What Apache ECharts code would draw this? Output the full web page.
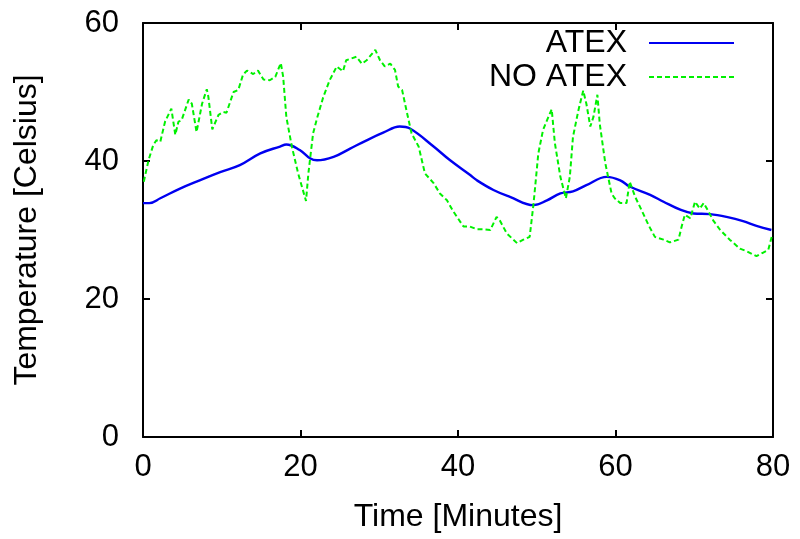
<!DOCTYPE html>
<html>
<head>
<meta charset="utf-8">
<script src="https://cdn.jsdelivr.net/npm/echarts@6/dist/echarts.min.js"></script>
<style>html,body{margin:0;padding:0;background:#fff}#c{width:800px;height:539px}</style>
</head>
<body>
<div id="c"></div>
<script>
// Tick labels
var xTicks = [0, 20, 40, 60, 80];
var yTicks = [0, 20, 40, 60];

// ATEX series (minutes, °C)
var atexTime = [0, 0.8, 2.2, 4.7, 7.2, 9.8, 12.3, 14.9, 17.4, 18.2, 19.9, 21.2, 22.1, 24.2, 26.3, 28.4, 30.5, 32.6, 33.9, 36.9, 39.0, 41.5, 42.4, 44.5, 46.6, 49.6, 51.3, 53.0, 54.6, 56.3, 58.9, 60.6, 61.8, 64.4, 66.1, 68.3, 69.9, 72.0, 74.1, 76.2, 77.9, 79.8];
var atexTemp = [33.9, 33.9, 34.6, 36.0, 37.2, 38.4, 39.4, 41.1, 42.1, 42.4, 41.6, 40.4, 40.1, 40.6, 41.8, 43.0, 44.1, 45.0, 44.7, 42.1, 40.1, 38.0, 37.2, 35.8, 34.8, 33.6, 34.3, 35.3, 35.6, 36.5, 37.7, 37.2, 36.3, 35.1, 34.1, 32.9, 32.4, 32.3, 31.9, 31.3, 30.6, 30.0];

// NO ATEX series (minutes, °C)
var noAtexTime = [0.1, 0.7, 1.3, 1.7, 2.2, 2.8, 3.6, 4.1, 4.5, 4.9, 5.8, 6.2, 6.8, 7.5, 8.1, 8.3, 8.8, 9.6, 10.2, 10.6, 11.5, 12.1, 12.7, 13.2, 14.0, 14.6, 15.3, 16.1, 16.8, 17.5, 17.8, 18.2, 18.9, 19.7, 20.7, 21.0, 21.6, 22.1, 22.9, 23.7, 24.6, 25.4, 25.8, 27.1, 27.8, 28.4, 29.5, 30.1, 30.7, 31.4, 32.0, 32.4, 32.9, 33.5, 34.1, 35.0, 35.8, 36.9, 37.7, 38.6, 39.4, 40.7, 41.5, 42.4, 43.2, 44.1, 44.9, 45.3, 46.2, 47.5, 48.3, 49.1, 49.6, 50.2, 50.8, 51.3, 51.9, 52.3, 53.0, 53.7, 54.2, 54.6, 55.3, 55.9, 56.3, 56.8, 57.2, 57.7, 58.0, 58.7, 59.5, 59.9, 60.6, 61.4, 61.8, 62.5, 63.3, 64.2, 65.0, 66.1, 66.9, 68.0, 68.4, 68.8, 69.5, 70.1, 70.7, 71.2, 71.8, 72.4, 73.3, 74.5, 75.8, 76.7, 77.9, 78.7, 79.4, 79.9];
var noAtexTemp = [37.0, 40.1, 42.3, 43.0, 42.8, 45.7, 47.6, 43.8, 45.7, 45.9, 48.9, 48.3, 44.2, 48.3, 50.4, 49.3, 44.6, 46.7, 47.1, 47.0, 50.0, 50.3, 52.5, 53.1, 52.6, 53.1, 51.8, 51.7, 52.2, 54.2, 52.2, 46.4, 42.1, 38.2, 34.2, 38.2, 44.0, 46.2, 49.3, 51.7, 53.7, 53.0, 54.6, 55.1, 54.1, 54.6, 56.1, 54.6, 53.7, 54.1, 53.2, 50.8, 50.3, 47.1, 44.0, 42.1, 38.2, 36.8, 35.3, 34.3, 32.7, 30.5, 30.5, 30.1, 30.1, 30.0, 31.9, 31.4, 29.5, 28.1, 28.6, 29.0, 33.9, 41.1, 44.5, 45.9, 47.5, 42.6, 37.7, 34.6, 37.7, 43.5, 47.4, 50.2, 48.3, 45.0, 46.4, 49.6, 45.4, 39.7, 35.3, 34.6, 33.9, 33.9, 37.0, 34.8, 32.9, 30.7, 29.0, 28.6, 28.2, 28.6, 30.5, 32.2, 31.7, 34.1, 33.1, 33.9, 32.7, 31.4, 30.0, 28.6, 27.3, 26.9, 26.2, 26.7, 27.1, 29.3];

function pairs(xs, ys) { return xs.map(function (x, i) { return [x, ys[i]]; }); }

var FONT = '"Liberation Sans", Arial, sans-serif';
var BLUE = '#0000f0';
var GREEN = '#00f000';

var chart = echarts.init(document.getElementById('c'), null, { renderer: 'canvas' });

function axisBase() {
  return {
    type: 'value',
    axisLine: { show: true, onZero: false, lineStyle: { color: '#000', width: 2 } },
    axisTick: { show: true, inside: true, length: 7, lineStyle: { color: '#000', width: 2 } },
    splitLine: { show: false }
  };
}

var legendText = { color: '#000', fontSize: 32, fontFamily: FONT, padding: [0, 17, 0, 0] };

chart.setOption({
  animation: false,
  backgroundColor: '#fff',
  textStyle: { fontFamily: FONT },
  grid: { left: 143, right: 27, top: 23, bottom: 102, containLabel: false },
  xAxis: [
    Object.assign(axisBase(), {
      min: xTicks[0], max: xTicks[xTicks.length - 1], interval: 20,
      position: 'bottom',
      name: 'Time [Minutes]', nameLocation: 'middle', nameGap: 64,
      nameTextStyle: { color: '#000', fontSize: 32, fontFamily: FONT },
      axisLabel: { color: '#000', fontSize: 31, fontFamily: FONT, margin: 15 }
    }),
    Object.assign(axisBase(), {
      min: xTicks[0], max: xTicks[xTicks.length - 1], interval: 20,
      position: 'top',
      axisLabel: { show: false }
    })
  ],
  yAxis: [
    Object.assign(axisBase(), {
      min: yTicks[0], max: yTicks[yTicks.length - 1], interval: 20,
      position: 'left',
      name: 'Temperature [Celsius]', nameLocation: 'middle', nameGap: 100, nameRotate: 90,
      nameTextStyle: { color: '#000', fontSize: 32, fontFamily: FONT },
      axisLabel: { color: '#000', fontSize: 31, fontFamily: FONT, margin: 24 }
    }),
    Object.assign(axisBase(), {
      min: yTicks[0], max: yTicks[yTicks.length - 1], interval: 20,
      position: 'right',
      axisLabel: { show: false }
    })
  ],
  legend: [
    {
      data: ['ATEX'], right: 65, top: 27, orient: 'vertical', align: 'right',
      itemWidth: 85, itemHeight: 14, padding: 0,
      itemStyle: { opacity: 0 },
      textStyle: legendText
    },
    {
      data: ['NO ATEX'], right: 65, top: 61, orient: 'vertical', align: 'right',
      itemWidth: 85, itemHeight: 14, padding: 0,
      itemStyle: { opacity: 0 },
      textStyle: legendText
    }
  ],
  series: [
    {
      name: 'ATEX', type: 'line', xAxisIndex: 0, yAxisIndex: 0,
      data: pairs(atexTime, atexTemp),
      smooth: 0.4, symbol: 'none', showSymbol: false,
      lineStyle: { color: BLUE, width: 2.4 }, itemStyle: { color: BLUE }
    },
    {
      name: 'NO ATEX', type: 'line', xAxisIndex: 0, yAxisIndex: 0,
      data: pairs(noAtexTime, noAtexTemp),
      symbol: 'none', showSymbol: false,
      lineStyle: { color: GREEN, width: 2, type: [5, 3] }, itemStyle: { color: GREEN }
    }
  ]
});
</script>
</body>
</html>
